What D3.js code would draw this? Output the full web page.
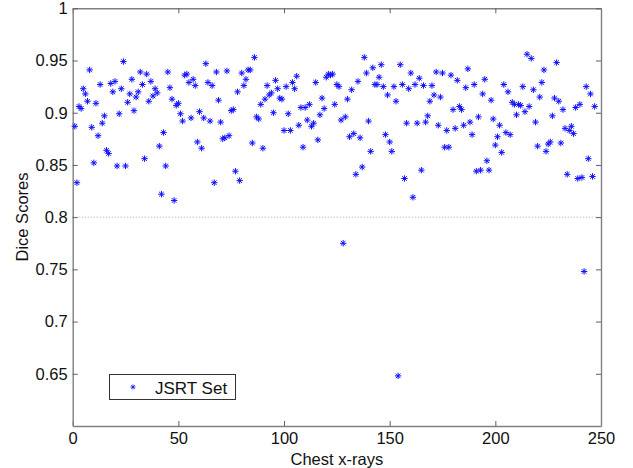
<!DOCTYPE html>
<html>
<head>
<meta charset="utf-8">
<script src="https://cdn.jsdelivr.net/npm/d3@7"></script>
<style>
  body { margin: 0; background: #fff; }
  text { font-family: 'Liberation Sans', Arial, sans-serif; }
</style>
</head>
<body>
<script>
let w = 633;
let h = 468;
let margin = { top: 8.3, right: 32, bottom: 42, left: 72.7 };

// Dice score of each JSRT image, image 1 .. 247
let diceScores = [
  0.887, 0.833, 0.906, 0.904, 0.923, 0.918, 0.911, 0.941, 0.886, 0.852,
  0.909, 0.878, 0.927, 0.890, 0.897, 0.864, 0.861, 0.928, 0.920, 0.930,
  0.849, 0.899, 0.923, 0.949, 0.849, 0.910, 0.918, 0.932, 0.902, 0.915,
  0.920, 0.939, 0.927, 0.856, 0.937, 0.911, 0.930, 0.916, 0.923, 0.919,
  0.868, 0.822, 0.881, 0.849, 0.939, 0.924, 0.913, 0.816, 0.907, 0.909,
  0.899, 0.892, 0.936, 0.937, 0.929, 0.895, 0.932, 0.926, 0.872, 0.901,
  0.866, 0.895, 0.947, 0.929, 0.892, 0.926, 0.833, 0.939, 0.912, 0.891,
  0.875, 0.876, 0.940, 0.878, 0.902, 0.903, 0.844, 0.920, 0.835, 0.938,
  0.926, 0.932, 0.941, 0.941, 0.871, 0.953, 0.896, 0.894, 0.908, 0.866,
  0.913, 0.926, 0.917, 0.919, 0.900, 0.931, 0.923, 0.914, 0.913, 0.883,
  0.925, 0.899, 0.883, 0.929, 0.923, 0.935, 0.888, 0.905, 0.867, 0.905,
  0.893, 0.908, 0.887, 0.890, 0.929, 0.874, 0.898, 0.914, 0.904, 0.934,
  0.937, 0.936, 0.937, 0.908, 0.927, 0.925, 0.893, 0.775, 0.896, 0.913,
  0.877, 0.922, 0.880, 0.841, 0.930, 0.876, 0.848, 0.953, 0.938, 0.892,
  0.863, 0.943, 0.927, 0.927, 0.934, 0.946, 0.925, 0.879, 0.917, 0.872,
  0.863, 0.925, 0.911, 0.648, 0.946, 0.927, 0.837, 0.890, 0.923, 0.938,
  0.819, 0.927, 0.890, 0.933, 0.845, 0.926, 0.891, 0.897, 0.911, 0.926,
  0.917, 0.939, 0.888, 0.915, 0.938, 0.867, 0.883, 0.867, 0.936, 0.903,
  0.885, 0.931, 0.906, 0.903, 0.888, 0.924, 0.942, 0.891, 0.879, 0.927,
  0.844, 0.896, 0.845, 0.918, 0.932, 0.854, 0.845, 0.912, 0.894, 0.869,
  0.877, 0.888, 0.862, 0.927, 0.881, 0.920, 0.879, 0.910, 0.908, 0.898,
  0.908, 0.907, 0.925, 0.901, 0.956, 0.906, 0.952, 0.922, 0.891, 0.868,
  0.915, 0.929, 0.941, 0.863, 0.870, 0.872, 0.897, 0.914, 0.948, 0.911,
  0.871, 0.903, 0.885, 0.841, 0.883, 0.887, 0.880, 0.905, 0.837, 0.908,
  0.838, 0.748, 0.925, 0.856, 0.918, 0.839, 0.906
];
let xTicks = [0, 50, 100, 150, 200, 250];
let yTicks = [0.65, 0.7, 0.75, 0.8, 0.85, 0.9, 0.95, 1];
let refLine = 0.8;
let seriesName = 'JSRT Set';

let dataset = diceScores.map((d, i) => { return { image: i + 1, score: d }; });

let xScale = d3.scaleLinear()
  .domain([0, 250])
  .range([margin.left, w - margin.right]);
let yScale = d3.scaleLinear()
  .domain([0.6, 1])
  .range([h - margin.bottom, margin.top]);

let svg = d3.select('body')
  .append('svg')
  .attr('width', w)
  .attr('height', h);

// dotted reference line
svg.append('line')
  .attr('x1', xScale.range()[0])
  .attr('x2', xScale.range()[1])
  .attr('y1', yScale(refLine))
  .attr('y2', yScale(refLine))
  .attr('stroke', '#a8a8a8')
  .attr('stroke-width', 1)
  .attr('stroke-dasharray', '1,2');

let yFormat = (d) => { return d === 1 ? '1' : String(d); };

let styleAxis = (g) => {
  g.selectAll('.domain').attr('stroke', '#808080').attr('stroke-width', 1.4);
  g.selectAll('.tick line').attr('stroke', '#606060').attr('stroke-width', 1);
  g.selectAll('.tick text')
    .attr('font-family', "'Liberation Sans', Arial, sans-serif")
    .attr('font-size', '16.5px')
    .attr('fill', '#111');
};

svg.append('g')
  .attr('transform', 'translate(0,' + (h - margin.bottom) + ')')
  .call(d3.axisBottom(xScale).tickValues(xTicks).tickSizeInner(-5).tickSizeOuter(0).tickPadding(6))
  .call(styleAxis);
svg.append('g')
  .attr('transform', 'translate(0,' + margin.top + ')')
  .call(d3.axisTop(xScale).tickValues(xTicks).tickSizeInner(-5).tickSizeOuter(0).tickFormat(''))
  .call(styleAxis);
svg.append('g')
  .attr('transform', 'translate(' + margin.left + ',0)')
  .call(d3.axisLeft(yScale).tickValues(yTicks).tickSizeInner(-5).tickSizeOuter(0).tickPadding(5).tickFormat(yFormat))
  .call(styleAxis);
svg.append('g')
  .attr('transform', 'translate(' + (w - margin.right) + ',0)')
  .call(d3.axisRight(yScale).tickValues(yTicks).tickSizeInner(-5).tickSizeOuter(0).tickFormat(''))
  .call(styleAxis);

// matlab style '*' marker
let star = 'M-3.2,0H3.2M0,-3.2V3.2M-2.3,-2.3L2.3,2.3M-2.3,2.3L2.3,-2.3';

svg.append('g')
  .selectAll('path')
  .data(dataset)
  .enter()
  .append('path')
  .attr('transform', (d) => { return 'translate(' + xScale(d.image) + ',' + yScale(d.score) + ')'; })
  .attr('d', star)
  .attr('fill', 'none')
  .attr('stroke', '#1010ff')
  .attr('stroke-width', 1);

// axis titles
svg.append('text')
  .attr('x', (xScale.range()[0] + xScale.range()[1]) / 2)
  .attr('y', 465)
  .attr('text-anchor', 'middle')
  .attr('font-size', '16.5px')
  .attr('fill', '#111')
  .text('Chest x-rays');

svg.append('text')
  .attr('transform', 'translate(28,217) rotate(-90)')
  .attr('text-anchor', 'middle')
  .attr('font-size', '16.5px')
  .attr('fill', '#111')
  .text('Dice Scores');

// legend
let legend = svg.append('g');
legend.append('rect')
  .attr('x', 109.5)
  .attr('y', 374.5)
  .attr('width', 126)
  .attr('height', 25)
  .attr('fill', '#fff')
  .attr('stroke', '#333')
  .attr('stroke-width', 1);
legend.append('path')
  .attr('transform', 'translate(133,387) scale(0.8)')
  .attr('d', star)
  .attr('fill', 'none')
  .attr('stroke', '#1010ff')
  .attr('stroke-width', 1);
legend.append('text')
  .attr('x', 155)
  .attr('y', 393.5)
  .attr('font-size', '17px')
  .attr('fill', '#111')
  .text(seriesName);
</script>
</body>
</html>
